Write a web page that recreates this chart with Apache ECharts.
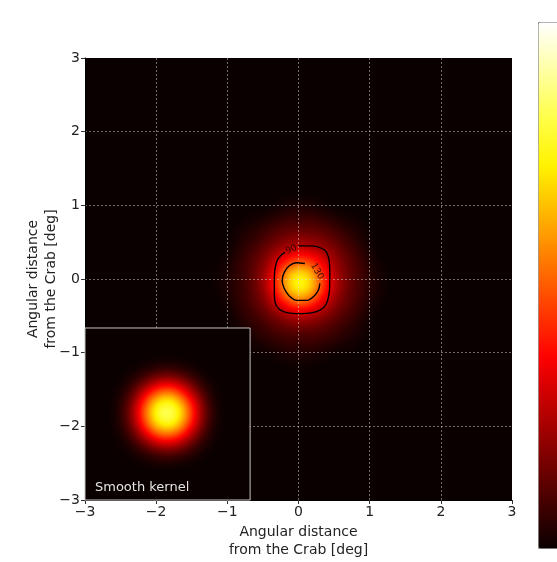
<!DOCTYPE html>
<html>
<head>
<meta charset="utf-8">
<script src="https://cdn.jsdelivr.net/npm/echarts@6/dist/echarts.min.js"></script>
<style>
  html, body { margin: 0; padding: 0; background: #ffffff; }
  #chart { width: 557px; height: 562px; }
</style>
</head>
<body>
<div id="chart"></div>
<script>
// Sky window around the Crab (degrees)
const axisMin = -3, axisMax = 3, axisStep = 1;

// Event clusters of the smoothed excess map: offsets (deg) and weights (map units)
const srcX = [0.02, 0.65, 0.47, 0.02, -0.43, -0.61, -0.43, 0.02, 0.47];
const srcY = [-0.05, -0.05, 0.38, 0.56, 0.38, -0.05, -0.48, -0.66, -0.48];
const srcW = [185, 26, 30, 30, 24, 20, 20, 22, 24];

// Single unit source used to show the smoothing kernel in the inset
const kernelX = [-1.85];
const kernelY = [-1.82];
const kernelW = [185];

// Colour scale range (map units)
const scaleMin = 0, scaleMax = 185;

// Contour levels, their traced paths (deg) and label placement
const contourLevels = [90, 130];
const contour90X = [0.00, 0.14, 0.26, 0.37, 0.42, 0.44, 0.44, 0.43, 0.39, 0.31, 0.18, 0.01, -0.15, -0.27, -0.33, -0.34, -0.34, -0.33, -0.30, -0.25, -0.19];
const contour90Y = [0.45, 0.45, 0.44, 0.39, 0.30, 0.14, -0.04, -0.20, -0.34, -0.42, -0.46, -0.47, -0.46, -0.41, -0.31, -0.15, 0.00, 0.14, 0.25, 0.32, 0.36];
const contour130X = [0.09, -0.03, -0.13, -0.20, -0.23, -0.20, -0.13, -0.02, 0.12, 0.22, 0.28, 0.30];
const contour130Y = [0.21, 0.22, 0.18, 0.09, -0.02, -0.13, -0.23, -0.29, -0.29, -0.23, -0.15, -0.06];
const labelX = [-0.10, 0.26];
const labelY = [0.40, 0.105];
const labelAngle = [25, -60];

// Inset frame (deg, main axes) and its caption
const insetX = [-3, -0.68];
const insetY = [-3, -0.665];
const insetCaption = 'Smooth kernel';

// matplotlib "hot" colour map, sampled evenly
const hotColors = ['#0b0000', '#470000', '#840000', '#c10000', '#fe0000', '#ff3c00',
                   '#ff7900', '#ffb600', '#fff200', '#ffff48', '#ffffa4', '#ffffff'];

const plot = { left: 85, top: 58, width: 427, height: 442 };
const font = 'DejaVu Sans';
const minus = v => String(v).replace('-', '\u2212');

echarts.registerMap('skyField', {
  type: 'FeatureCollection',
  features: [{
    type: 'Feature',
    properties: { name: 'field' },
    geometry: {
      type: 'Polygon',
      coordinates: [[[axisMin, axisMin], [axisMax, axisMin], [axisMax, axisMax], [axisMin, axisMax], [axisMin, axisMin]]]
    }
  }]
});

const chart = echarts.init(document.getElementById('chart'), null, { renderer: 'canvas' });

const axisCommon = {
  type: 'value',
  min: axisMin,
  max: axisMax,
  interval: axisStep,
  z: 3,
  axisLine: { show: true, onZero: false, lineStyle: { color: '#000', width: 1 } },
  axisTick: { show: true, length: 4, lineStyle: { color: '#333', width: 1 } },
  axisLabel: { color: '#222', fontSize: 14, fontFamily: font, margin: 5, formatter: minus },
  splitLine: {
    show: true, showMinLine: false, showMaxLine: false,
    lineStyle: { color: 'rgba(215,215,215,0.5)', type: [2, 2], width: 1 }
  },
  name: 'Angular distance\nfrom the Crab [deg]',
  nameLocation: 'middle',
  nameMoveOverlap: false,
  nameTextStyle: { fontSize: 14, color: '#222', fontFamily: font, lineHeight: 18 }
};

// Smoothing brushes (pixels) for the map and for the inset kernel
const mapBrush = { pointSize: 24, blurSize: 30 };
const kernelBrush = { pointSize: 27, blurSize: 30 };

// Corner points of the inset frame in pixels
const insetCorners = api => [
  api.coord([api.value(0), api.value(3)]),
  api.coord([api.value(2), api.value(1)])
];

const option = {
  animation: false,
  backgroundColor: '#ffffff',
  grid: Object.assign({ show: false, outerBoundsMode: 'none', containLabel: false }, plot),
  geo: Object.assign({
    map: 'skyField',
    roam: false,
    silent: true,
    aspectScale: plot.width / plot.height,
    boundingCoords: [[axisMin, axisMax], [axisMax, axisMin]],
    itemStyle: { areaColor: '#0b0000', borderWidth: 0 },
    emphasis: { disabled: true },
    select: { disabled: true },
    label: { show: false },
    z: 0
  }, plot),
  xAxis: Object.assign({}, axisCommon, { position: 'bottom', nameGap: 23 }),
  yAxis: Object.assign({}, axisCommon, { position: 'left', nameGap: 25, nameRotate: 90 }),
  visualMap: {
    type: 'continuous',
    min: scaleMin,
    max: scaleMax,
    seriesIndex: [0, 4],
    calculable: false,
    hoverLink: false,
    orient: 'vertical',
    left: 538,
    top: 22,
    itemWidth: 30,
    itemHeight: 526,
    padding: 0,
    borderColor: '#8a8a8a',
    borderWidth: 1,
    text: null,
    inRange: { color: hotColors }
  },
  series: [
    Object.assign({
      type: 'heatmap',
      coordinateSystem: 'geo',
      data: srcX.map((x, i) => [x, srcY[i], srcW[i]]),
      minOpacity: 1,
      maxOpacity: 1,
      silent: true,
      z: 2
    }, mapBrush),
    {
      type: 'line',
      data: contour90X.map((x, i) => [x, contour90Y[i]]),
      symbol: 'none',
      smooth: 0.35,
      silent: true,
      lineStyle: { color: '#000', width: 1.4 },
      z: 3
    },
    {
      type: 'line',
      data: contour130X.map((x, i) => [x, contour130Y[i]]),
      symbol: 'none',
      smooth: 0.35,
      silent: true,
      lineStyle: { color: '#000', width: 1.4 },
      z: 3
    },
    {
      type: 'scatter',
      data: contourLevels.map((lv, i) => ({
        value: [labelX[i], labelY[i], lv],
        label: { rotate: labelAngle[i] }
      })),
      symbolSize: 0,
      silent: true,
      label: {
        show: true, position: 'inside', formatter: p => String(p.value[2]),
        fontSize: 9, color: '#150000', fontFamily: font
      },
      z: 3
    },
    Object.assign({
      type: 'heatmap',
      coordinateSystem: 'geo',
      data: kernelX.map((x, i) => [x, kernelY[i], kernelW[i]]),
      minOpacity: 1,
      maxOpacity: 1,
      silent: true,
      z: 6
    }, kernelBrush),
    {
      // inset frame
      type: 'custom',
      coordinateSystem: 'cartesian2d',
      silent: true,
      clip: false,
      z: 5,
      data: [[insetX[0], insetY[0], insetX[1], insetY[1]]],
      renderItem: (params, api) => {
        const [p0, p1] = insetCorners(api);
        return {
          type: 'rect',
          shape: { x: p0[0], y: p0[1], width: p1[0] - p0[0], height: p1[1] - p0[1] },
          style: { fill: '#0b0000', stroke: '#c4c4c4', lineWidth: 1 }
        };
      }
    },
    {
      // inset caption, above the kernel image
      type: 'custom',
      coordinateSystem: 'cartesian2d',
      silent: true,
      clip: false,
      z: 7,
      data: [[insetX[0], insetY[0], insetX[1], insetY[1]]],
      renderItem: (params, api) => {
        const [p0, p1] = insetCorners(api);
        return {
          type: 'text',
          style: {
            text: insetCaption, x: p0[0] + 10, y: p1[1] - 6,
            fill: '#e4e4e4', font: '13px "DejaVu Sans"', align: 'left', verticalAlign: 'bottom'
          }
        };
      }
    }
  ]
};

chart.setOption(option);
</script>
</body>
</html>
